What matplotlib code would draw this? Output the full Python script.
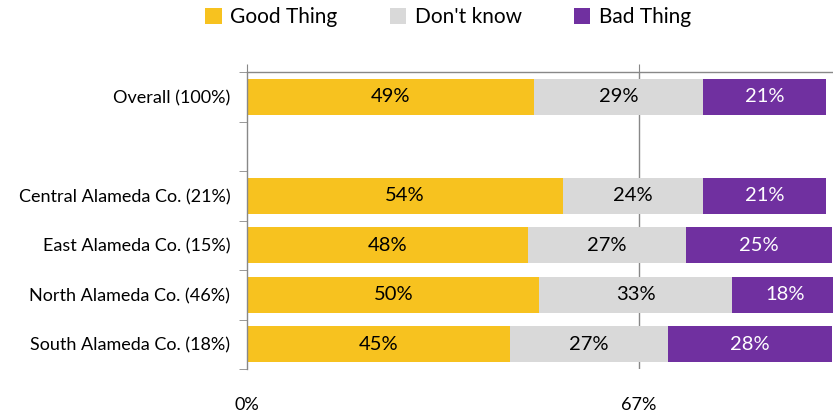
import matplotlib.pyplot as plt
import numpy as np
from matplotlib.patches import Patch

plt.rcParams['font.family'] = ['Lato', 'DejaVu Sans']

# survey results, top to bottom (blank row separates the total from the regions)
categories = ['Overall (100%)', '', 'Central Alameda Co. (21%)', 'East Alameda Co. (15%)',
              'North Alameda Co. (46%)', 'South Alameda Co. (18%)']
good = [49, None, 54, 48, 50, 45]
dont_know = [29, None, 24, 27, 33, 27]
bad = [21, None, 21, 25, 18, 28]

series = ['Good Thing', "Don't know", 'Bad Thing']
colors = ['#F7C21F', '#D9D9D9', '#7030A0']
text_colors = ['black', 'black', 'white']

fig = plt.figure(figsize=(8.33, 4.16), dpi=100)
ax = fig.add_axes([247 / 833, 1 - 369 / 416, 586 / 833, (369 - 72) / 416])

ypos = np.arange(len(categories))
for i, (g, d, b) in enumerate(zip(good, dont_know, bad)):
    if g is None:
        continue
    left = 0
    for val, col, tc in zip([g, d, b], colors, text_colors):
        ax.barh(ypos[i], val, left=left, height=0.72, color=col, zorder=2)
        ax.text(left + val / 2, ypos[i], f'{val}%', ha='center', va='center',
                color=tc, fontsize=14.5, zorder=3)
        left += val

ax.set_xlim(0, 100.2)
ax.set_ylim(len(categories) - 0.5, -0.5)

# y labels at bar centres, tick marks at row boundaries
ax.set_yticks(ypos)
ax.set_yticklabels(categories, fontsize=13)
ax.set_yticks(np.arange(-0.5, len(categories), 1), minor=True)
ax.tick_params(axis='y', which='major', length=0, pad=12)
ax.tick_params(axis='y', which='minor', length=6, color='#888888', direction='out')

# x axis line on top, labels underneath
ax.set_xticks([0, 67])
ax.set_xticklabels(['0%', '67%'], fontsize=13)
ax.tick_params(axis='x', top=True, bottom=False, labeltop=False, labelbottom=True,
               length=6, color='#888888', direction='out', pad=14)
ax.axvline(67, color='#888888', lw=1, zorder=1)

for side in ['right', 'bottom']:
    ax.spines[side].set_visible(False)
for side in ['top', 'left']:
    ax.spines[side].set_color('#888888')
    ax.spines[side].set_linewidth(1)

handles = [Patch(facecolor=c, edgecolor='none') for c in colors]
fig.legend(handles, series, loc='center', bbox_to_anchor=(448 / 833, 1 - 17 / 416),
           ncol=3, frameon=False, fontsize=15, handlelength=0.8, handleheight=0.8,
           handletextpad=0.4, columnspacing=2.5)

fig.savefig('out.png', dpi=100)
